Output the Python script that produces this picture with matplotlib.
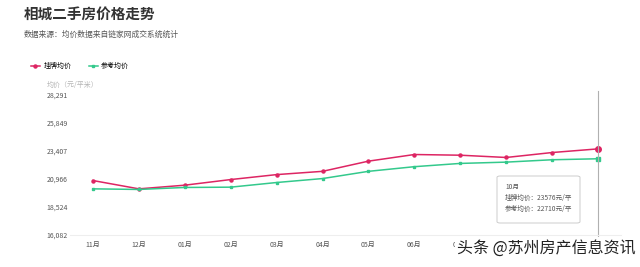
import matplotlib.pyplot as plt
from matplotlib.patches import FancyBboxPatch

plt.rcParams['font.family'] = ['Noto Sans CJK SC', 'DejaVu Sans']

# data
months = ['11月', '12月', '01月', '02月', '03月', '04月', '05月', '06月', '07月', '08月', '09月', '10月']
listed = [20805, 20077, 20398, 20891, 21324, 21610, 22502, 23082, 23022, 22823, 23256, 23576]
reference = [20077, 20025, 20199, 20225, 20632, 20978, 21610, 22017, 22303, 22416, 22624, 22710]
y_ticks = [16082, 18524, 20966, 23407, 25849, 28291]

RED = '#dd2563'
GREEN = '#33c98c'

fig = plt.figure(figsize=(6.4, 2.67), dpi=100)
ax = fig.add_axes([70 / 640, 1 - 234.5 / 267, 551 / 640, 139.5 / 267])

x = list(range(len(months)))
l1, = ax.plot(x, listed, color=RED, lw=1.1, marker='o', ms=2.2, label='挂牌均价')
l2, = ax.plot(x, reference, color=GREEN, lw=1.1, marker='s', ms=1.9, label='参考均价')
# highlighted last point
ax.plot(x[-1], listed[-1], 'o', color=RED, ms=4)
ax.plot(x[-1], reference[-1], 's', color=GREEN, ms=3.5)

ax.set_xlim(-0.5, len(months) - 0.5)
ax.set_ylim(y_ticks[0], y_ticks[-1])
ax.set_xticks(x)
ax.set_xticklabels(months, fontsize=5, color='#555555')
ax.set_yticks(y_ticks)
ax.set_yticklabels([f'{v:,}' for v in y_ticks], fontsize=5, color='#555555', ha='left')
ax.tick_params(axis='y', length=0, pad=17)
ax.tick_params(axis='x', length=0, pad=5)
for s in ['top', 'right', 'left']:
    ax.spines[s].set_visible(False)
ax.spines['bottom'].set_color('#eeeeee')
ax.spines['bottom'].set_linewidth(0.8)

# hover line
ax.axvline(x[-1], ymin=-0.04, ymax=1.03, color='#b0b0b0', lw=0.8, clip_on=False)

# tooltip
box = FancyBboxPatch((497 / 640, 1 - 223 / 267), 83 / 640, 47 / 267,
                     boxstyle='round,pad=0,rounding_size=0.005', transform=fig.transFigure,
                     facecolor='white', edgecolor='#cccccc', lw=0.7)
fig.patches.append(box)
tip = [months[-1], f'挂牌均价：{listed[-1]}元/平', f'参考均价：{reference[-1]}元/平']
for i, t in enumerate(tip):
    fig.text(505 / 640, 1 - (187 + 11 * i) / 267, t, fontsize=4.8, color='#555555', va='center')

# titles
fig.text(24 / 640, 1 - 14 / 267, '相城二手房价格走势', fontsize=10.5, fontweight='bold',
         color='#333333', va='center')
fig.text(24 / 640, 1 - 35 / 267, '数据来源：均价数据来自链家网成交系统统计', fontsize=5.6,
         color='#555555', va='center')
fig.text(47 / 640, 1 - 85 / 267, '均价（元/平米）', fontsize=5, color='#b5b5b5', va='center')

fig.legend(handles=[l1, l2], loc='center left', bbox_to_anchor=(28 / 640, 1 - 66 / 267),
           frameon=False, ncol=2, fontsize=5, handlelength=1.3, handletextpad=0.5,
           columnspacing=2.5, borderaxespad=0)

# watermark (covers the last tick labels, as in the source image)
fig.text(636 / 640, 1 - 248 / 267, '头条 @苏州房产信息资讯', fontsize=11.5, color='#222222',
         ha='right', va='center', zorder=10,
         bbox=dict(facecolor='white', edgecolor='none', pad=1.5))

fig.savefig('out.png', dpi=100)
